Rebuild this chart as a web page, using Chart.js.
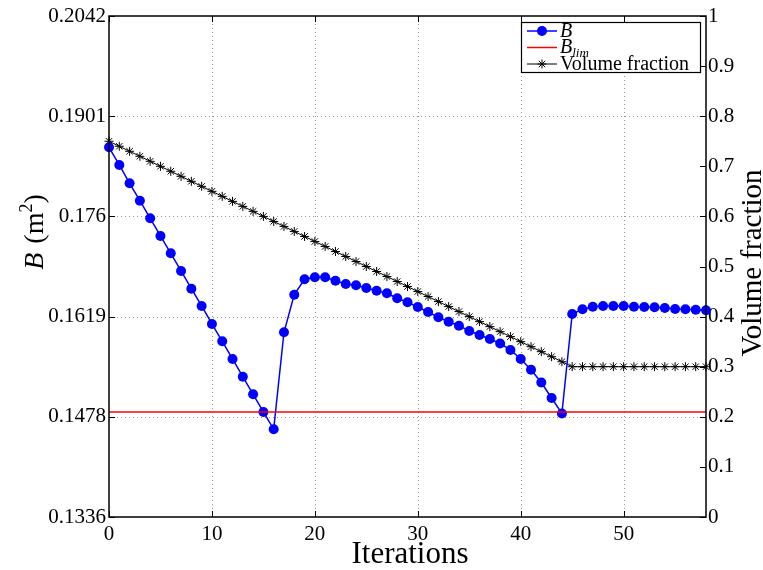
<!DOCTYPE html>
<html><head><meta charset="utf-8">
<script src="https://cdn.jsdelivr.net/npm/chart.js@4/dist/chart.umd.min.js"></script>
<style>html,body{margin:0;padding:0;background:#fff;} canvas{display:block;}</style>
</head><body>
<canvas id="c" width="763" height="570"></canvas>
<script>
const iterations = [0,1,2,3,4,5,6,7,8,9,10,11,12,13,14,15,16,17,18,19,20,21,22,23,24,25,26,27,28,29,30,31,32,33,34,35,36,37,38,39,40,41,42,43,44,45,46,47,48,49,50,51,52,53,54,55,56,57,58];
const bValues = [0.18570,0.18321,0.18063,0.17817,0.17569,0.17320,0.17076,0.16827,0.16577,0.16334,
  0.16080,0.15836,0.15587,0.15337,0.15089,0.14840,0.14596,0.15963,0.16493,0.16710,
  0.16738,0.16738,0.16690,0.16644,0.16625,0.16587,0.16549,0.16513,0.16442,0.16386,
  0.16319,0.16249,0.16174,0.16112,0.16056,0.15981,0.15925,0.15869,0.15805,0.15714,
  0.15587,0.15436,0.15255,0.15037,0.14819,0.16221,0.16287,0.16324,0.16334,0.16334,
  0.16334,0.16324,0.16319,0.16315,0.16305,0.16291,0.16287,0.16281,0.16273];
const volumeFraction = [0.75,0.74,0.73,0.72,0.71,0.70,0.69,0.68,0.67,0.66,
  0.65,0.64,0.63,0.62,0.61,0.60,0.59,0.58,0.57,0.56,
  0.55,0.54,0.53,0.52,0.51,0.50,0.49,0.48,0.47,0.46,
  0.45,0.44,0.43,0.42,0.41,0.40,0.39,0.38,0.37,0.36,
  0.35,0.34,0.33,0.32,0.31,0.30,0.30,0.30,0.30,0.30,
  0.30,0.30,0.30,0.30,0.30,0.30,0.30,0.30,0.30];
const bLimValue = 0.1484;
const bLimIterations = [0, 58];
const xTickValues = [0,10,20,30,40,50];
const leftTickValues = [0.1336,0.14772,0.16184,0.17596,0.19008,0.2042];
const leftTickLabels = ['0.1336','0.1478','0.1619','0.176','0.1901','0.2042'];
const rightTickValues = [0,0.1,0.2,0.3,0.4,0.5,0.6,0.7,0.8,0.9,1];
const rightTickLabels = ['0','0.1','0.2','0.3','0.4','0.5','0.6','0.7','0.8','0.9','1'];

const SERIF = '"Liberation Serif","Times New Roman",serif';
const tickFont = {family: SERIF, size: 21};

const decor = {
  id: 'decor',
  beforeDatasetsDraw(chart) {
    const {ctx, chartArea: a, scales} = chart;
    ctx.save();
    ctx.strokeStyle = '#9a9a9a'; ctx.lineWidth = 1; ctx.setLineDash([1, 3]);
    scales.x.ticks.forEach(t => {
      const px = Math.round(scales.x.getPixelForValue(t.value)) + 0.5;
      if (px <= a.left + 2 || px >= a.right - 2) return;
      ctx.beginPath(); ctx.moveTo(px, a.top); ctx.lineTo(px, a.bottom); ctx.stroke();
    });
    scales.yL.ticks.forEach(t => {
      const py = Math.round(scales.yL.getPixelForValue(t.value)) + 0.5;
      if (py <= a.top + 2 || py >= a.bottom - 2) return;
      ctx.beginPath(); ctx.moveTo(a.left, py); ctx.lineTo(a.right, py); ctx.stroke();
    });
    ctx.restore();
  },
  afterDatasetsDraw(chart) {
    const {ctx, chartArea: a, scales} = chart;
    ctx.save();
    ctx.strokeStyle = '#000'; ctx.setLineDash([]);
    ctx.lineWidth = 1.5;
    ctx.strokeRect(a.left, a.top, a.right - a.left, a.bottom - a.top);
    ctx.lineWidth = 1;
    const L = 6;
    scales.x.ticks.forEach(t => {
      const px = Math.round(scales.x.getPixelForValue(t.value)) + 0.5;
      ctx.beginPath(); ctx.moveTo(px, a.bottom); ctx.lineTo(px, a.bottom - L);
      ctx.moveTo(px, a.top); ctx.lineTo(px, a.top + L); ctx.stroke();
    });
    scales.yL.ticks.forEach(t => {
      const py = Math.round(scales.yL.getPixelForValue(t.value)) + 0.5;
      ctx.beginPath(); ctx.moveTo(a.left, py); ctx.lineTo(a.left + L, py); ctx.stroke();
    });
    scales.yR.ticks.forEach(t => {
      const py = Math.round(scales.yR.getPixelForValue(t.value)) + 0.5;
      ctx.beginPath(); ctx.moveTo(a.right, py); ctx.lineTo(a.right - L, py); ctx.stroke();
    });
    ctx.restore();
  },
  afterDraw(chart) {
    const {ctx, chartArea: a} = chart;
    ctx.save();
    ctx.fillStyle = '#000';
    // x title
    ctx.font = '31px ' + SERIF;
    ctx.textAlign = 'center'; ctx.textBaseline = 'alphabetic';
    ctx.fillText('Iterations', 410, 563);
    // right title
    ctx.save();
    ctx.translate(761, 263); ctx.rotate(-Math.PI / 2);
    ctx.textBaseline = 'alphabetic'; ctx.textAlign = 'center';
    ctx.font = '29px ' + SERIF;
    ctx.fillText('Volume fraction', 0, 0);
    ctx.restore();
    // left title: B (m^2)
    ctx.save();
    ctx.translate(43, 232); ctx.rotate(-Math.PI / 2);
    ctx.textBaseline = 'alphabetic'; ctx.textAlign = 'left';
    const p1 = 'B', p2 = ' (m', p3 = '2', p4 = ')';
    ctx.font = 'italic 28px ' + SERIF; const w1 = ctx.measureText(p1).width;
    ctx.font = '28px ' + SERIF; const w2 = ctx.measureText(p2).width; const w4 = ctx.measureText(p4).width;
    ctx.font = '18px ' + SERIF; const w3 = ctx.measureText(p3).width;
    let x = -(w1 + w2 + w3 + w4 + 2) / 2;
    ctx.font = 'italic 28px ' + SERIF; ctx.fillText(p1, x, 0); x += w1 + 2;
    ctx.font = '28px ' + SERIF; ctx.fillText(p2, x, 0); x += w2;
    ctx.font = '18px ' + SERIF; ctx.fillText(p3, x, -11); x += w3;
    ctx.font = '28px ' + SERIF; ctx.fillText(p4, x, 0);
    ctx.restore();
    // legend
    const bx = 521, by = 22, bw = 179, bh = 50;
    ctx.fillStyle = '#fff'; ctx.fillRect(bx, by, bw, bh);
    ctx.strokeStyle = '#000'; ctx.lineWidth = 1.2; ctx.strokeRect(bx + 0.5, by + 0.5, bw, bh);
    const lx1 = 527, lx2 = 557, mx = 542, tx = 560;
    const rows = [31, 47.5, 64];
    ctx.strokeStyle = '#0000ff'; ctx.lineWidth = 1.5;
    ctx.beginPath(); ctx.moveTo(lx1, rows[0]); ctx.lineTo(lx2, rows[0]); ctx.stroke();
    ctx.fillStyle = '#0000ff'; ctx.beginPath(); ctx.arc(mx, rows[0], 5, 0, Math.PI * 2); ctx.fill();
    ctx.strokeStyle = '#ff0000';
    ctx.beginPath(); ctx.moveTo(lx1, rows[1]); ctx.lineTo(lx2, rows[1]); ctx.stroke();
    ctx.strokeStyle = '#000'; ctx.lineWidth = 1;
    ctx.beginPath(); ctx.moveTo(lx1, rows[2]); ctx.lineTo(lx2, rows[2]); ctx.stroke();
    const r = 4.5;
    ctx.beginPath();
    ctx.moveTo(mx - r, rows[2]); ctx.lineTo(mx + r, rows[2]);
    ctx.moveTo(mx, rows[2] - r); ctx.lineTo(mx, rows[2] + r);
    const d = r * 0.707;
    ctx.moveTo(mx - d, rows[2] - d); ctx.lineTo(mx + d, rows[2] + d);
    ctx.moveTo(mx - d, rows[2] + d); ctx.lineTo(mx + d, rows[2] - d);
    ctx.stroke();
    ctx.fillStyle = '#000'; ctx.textAlign = 'left'; ctx.textBaseline = 'alphabetic';
    ctx.font = 'italic 20px ' + SERIF; ctx.fillText('B', tx, rows[0] + 6);
    ctx.fillText('B', tx, rows[1] + 5);
    const wb = ctx.measureText('B').width;
    ctx.font = 'italic 13px ' + SERIF; ctx.fillText('lim', tx + wb, rows[1] + 9);
    ctx.font = '20px ' + SERIF; ctx.fillText('Volume fraction', tx, rows[2] + 6);
    ctx.restore();
  }
};

new Chart(document.getElementById('c'), {
  type: 'line',
  data: {
    datasets: [
      {
        label: 'B_lim',
        data: bLimIterations.map(x => ({x: x, y: bLimValue})),
        yAxisID: 'yL', borderColor: '#ff0000', borderWidth: 1.5,
        pointRadius: 0, order: 0, clip: false
      },
      {
        label: 'B',
        data: iterations.map((x, i) => ({x: x, y: bValues[i]})),
        yAxisID: 'yL', borderColor: '#0000ff', backgroundColor: '#0000ff',
        borderWidth: 1.5, pointRadius: 5, pointBorderWidth: 0,
        pointBackgroundColor: '#0000ff', order: 1, clip: false
      },
      {
        label: 'Volume fraction',
        data: iterations.map((x, i) => ({x: x, y: volumeFraction[i]})),
        yAxisID: 'yR', borderColor: '#000', backgroundColor: '#000',
        borderWidth: 1, pointStyle: 'star', pointRadius: 4.5, pointBorderWidth: 1,
        pointBorderColor: '#000', order: 2, clip: false
      }
    ]
  },
  options: {
    responsive: false, animation: false, devicePixelRatio: 1,
    layout: {padding: {top: 16, left: 0, right: 0, bottom: 0}},
    plugins: {legend: {display: false}, tooltip: {enabled: false}},
    elements: {line: {tension: 0}},
    scales: {
      x: {
        type: 'linear', min: 0, max: 58,
        afterBuildTicks: s => { s.ticks = xTickValues.map(v => ({value: v})); },
        afterFit: s => { s.height = 53; },
        grid: {display: false, drawTicks: false}, border: {display: false},
        ticks: {font: tickFont, color: '#000', padding: 5, maxRotation: 0, autoSkip: false,
          callback: v => String(v)}
      },
      yL: {
        type: 'linear', position: 'left', min: 0.1336, max: 0.2042,
        afterBuildTicks: s => { s.ticks = leftTickValues.map(v => ({value: v})); },
        afterFit: s => { s.width = 109; },
        grid: {display: false, drawTicks: false}, border: {display: false},
        ticks: {font: tickFont, color: '#000', padding: 3, autoSkip: false,
          callback: (v, i) => leftTickLabels[i]}
      },
      yR: {
        type: 'linear', position: 'right', min: 0, max: 1,
        afterBuildTicks: s => { s.ticks = rightTickValues.map(v => ({value: v})); },
        afterFit: s => { s.width = 57; },
        grid: {display: false, drawTicks: false}, border: {display: false},
        ticks: {font: tickFont, color: '#000', padding: 2, autoSkip: false,
          callback: (v, i) => rightTickLabels[i]}
      }
    }
  },
  plugins: [decor]
});
</script>
</body></html>
